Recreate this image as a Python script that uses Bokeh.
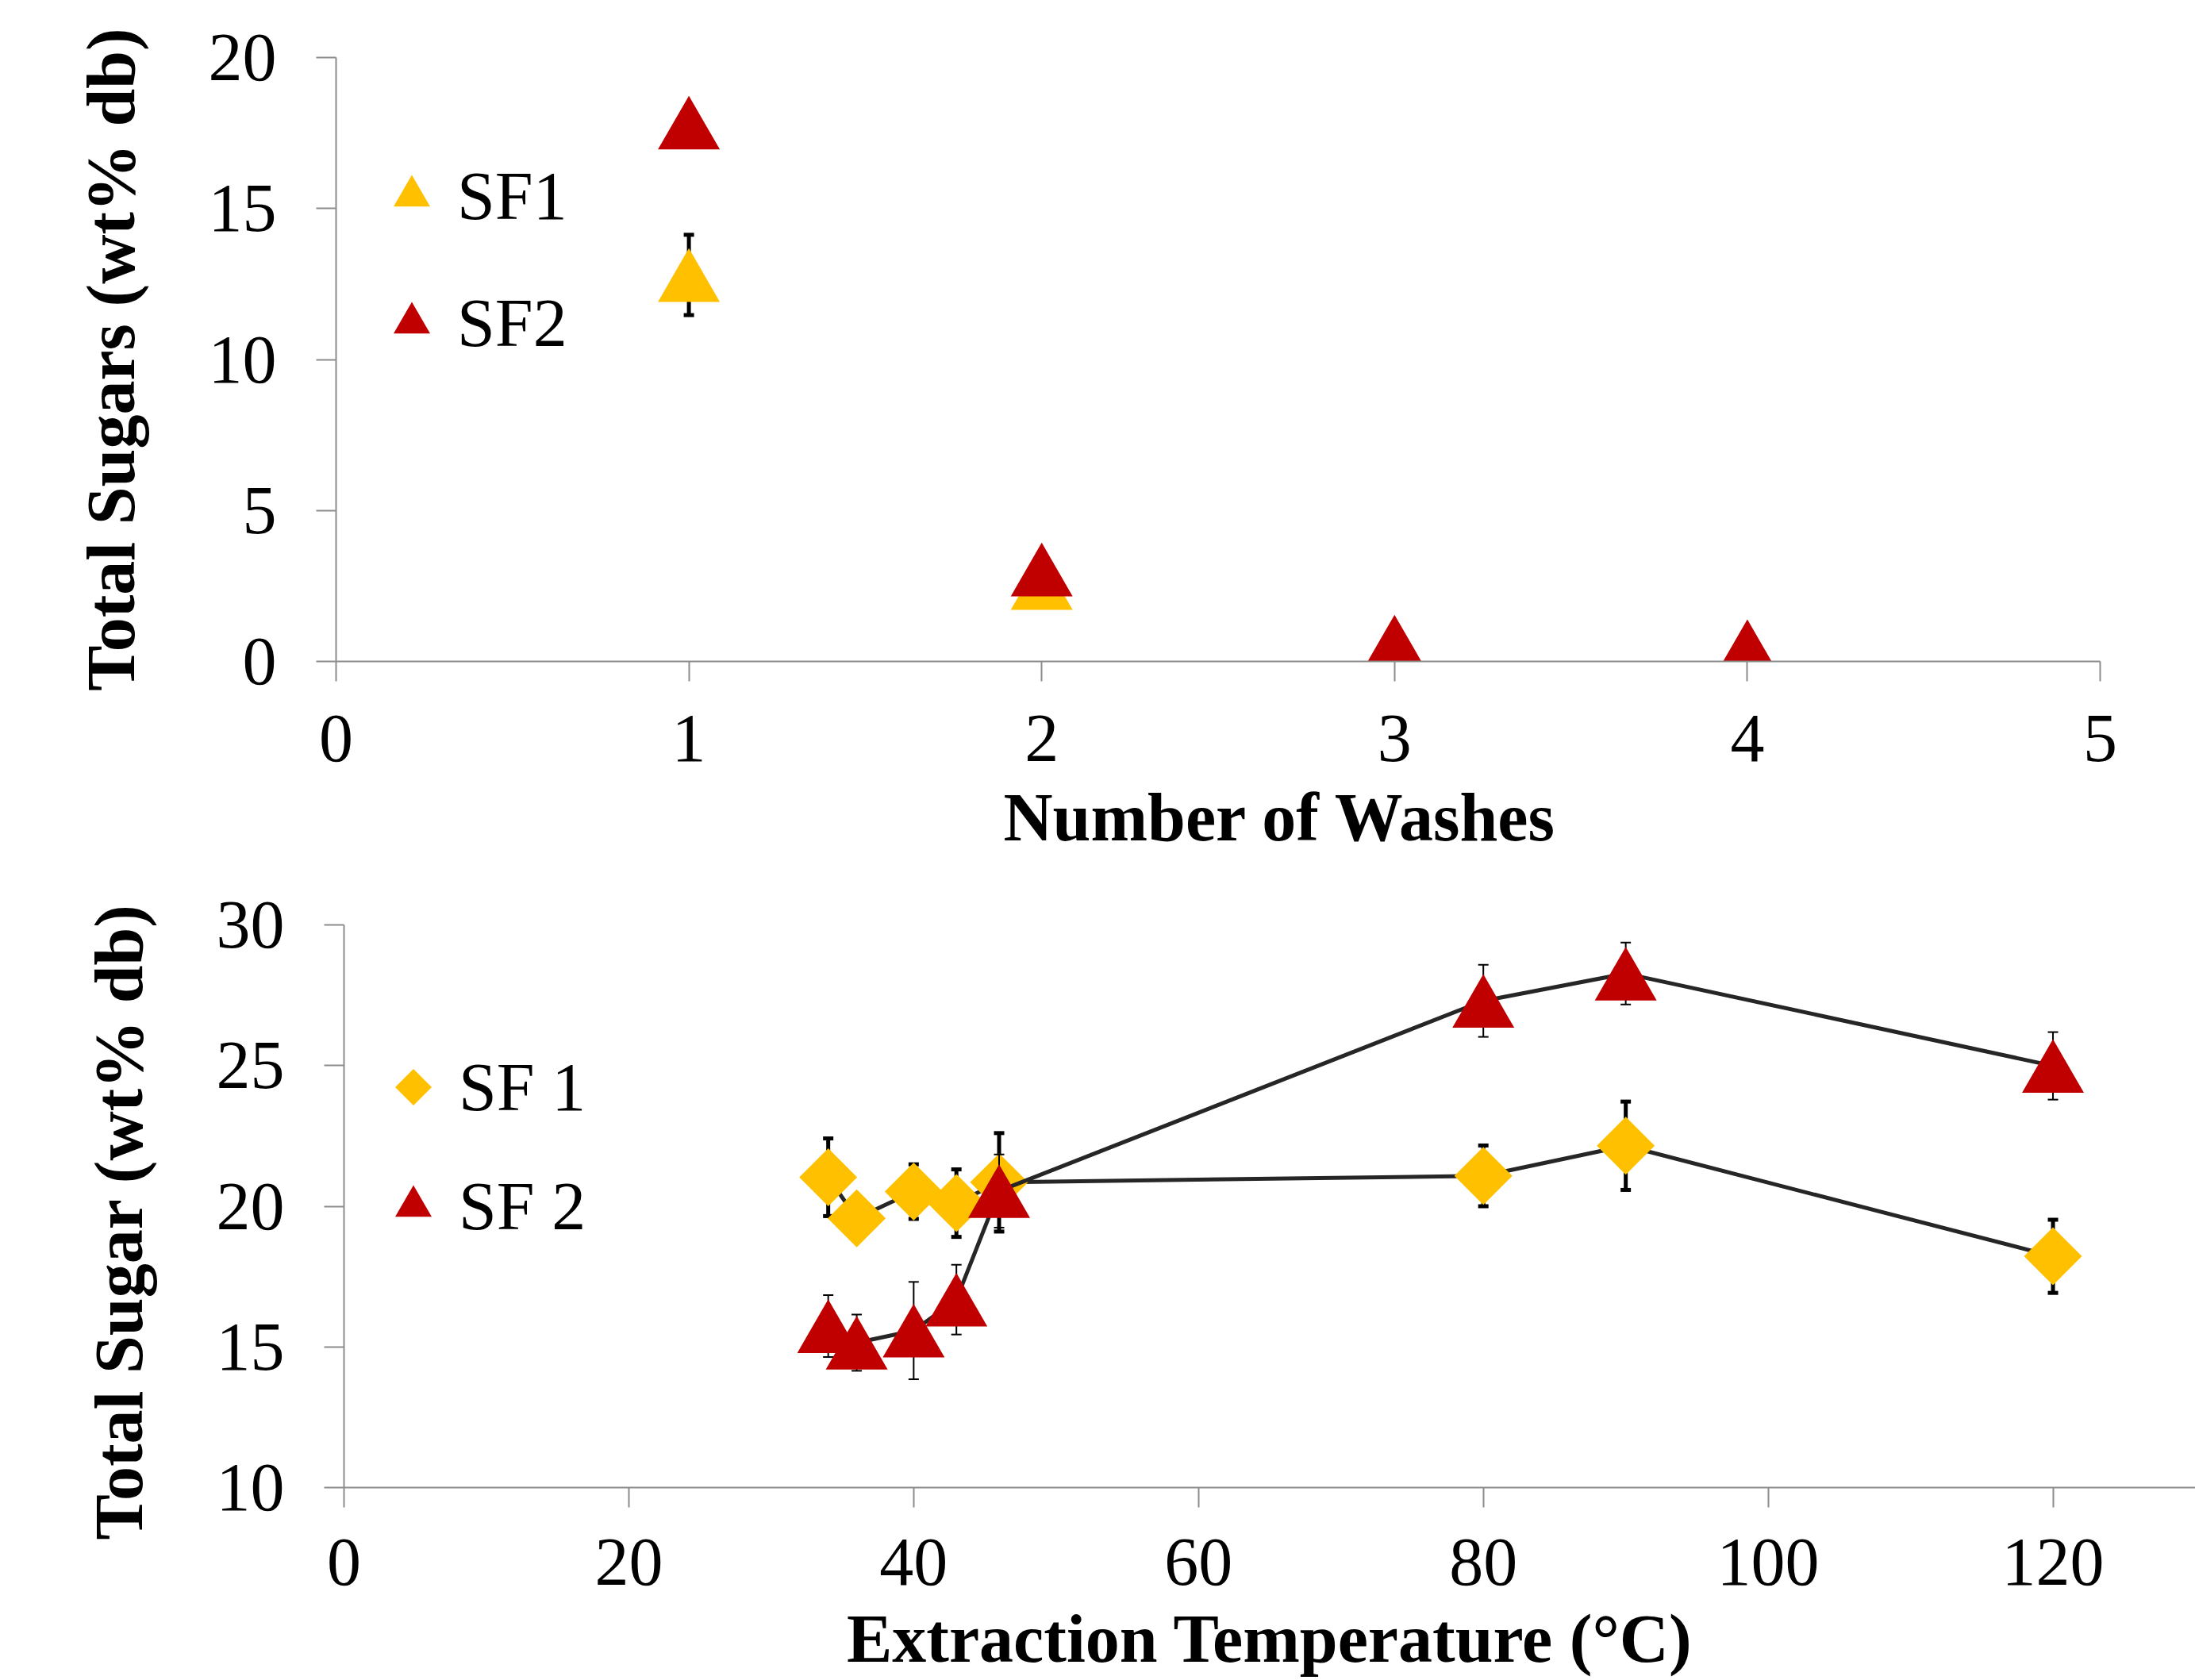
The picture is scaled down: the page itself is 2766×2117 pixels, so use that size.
import math
from bokeh.plotting import figure
from bokeh.models import (Range1d, FixedTicker, Legend, LegendItem, Title,
                          ColumnDataSource)
from bokeh.transform import dodge
from bokeh.embed import file_html
from bokeh.resources import INLINE

try:
    from bokeh.models import Ngon
    HAVE_NGON = True
except ImportError:
    HAVE_NGON = False

# ---------------- data ----------------
washes = [1, 2, 3, 4]
sf1_washes = [12.8, 2.6, 0.62, 0.31]
sf1_washes_err = [1.33, 0, 0, 0]
sf2_washes = [17.85, 3.05, 0.66, 0.51]
sf2_washes_err = [0, 0, 0, 0]

temps = [34, 36, 40, 43, 46, 80, 90, 120]
sf1_temp = [21.03, 19.57, 20.52, 20.11, 20.85, 21.08, 22.15, 18.22]
sf1_temp_err = [1.38, 0, 0.97, 1.2, 1.75, 1.08, 1.57, 1.3]
sf2_temp = [15.74, 15.15, 15.58, 16.68, 20.54, 27.3, 28.27, 24.99]
sf2_temp_err = [1.1, 1.0, 1.73, 1.24, 1.3, 1.28, 1.1, 1.2]

top_xticks = [0, 1, 2, 3, 4, 5]
top_yticks = [0, 5, 10, 15, 20]
bot_xticks = [0, 20, 40, 60, 80, 100, 120]
bot_yticks = [10, 15, 20, 25, 30]

# ---------------- style ----------------
FONT = "Liberation Serif"
GOLD = "#FFC000"
RED = "#C00000"
LINEC = "#262626"
AXISC = "#8c8c8c"
FS = "86px"
TRI = 78
SQ = 51.6


def style_axis(ax, label, label_standoff, axis_standoff):
    ax.axis_label = label
    ax.axis_line_color = AXISC
    ax.axis_line_width = 2
    ax.major_tick_line_color = AXISC
    ax.major_tick_line_width = 2
    ax.major_tick_in = 0
    ax.major_tick_out = 25
    ax.minor_tick_in = 0
    ax.minor_tick_out = 0
    ax.major_label_text_font = FONT
    ax.major_label_text_font_size = FS
    ax.major_label_text_color = "black"
    ax.major_label_standoff = label_standoff
    ax.axis_label_text_font = FONT
    ax.axis_label_text_font_size = FS
    ax.axis_label_text_font_style = "bold"
    ax.axis_label_text_color = "black"
    ax.axis_label_standoff = axis_standoff


def side_title(text, offset, standoff, valign):
    return Title(text=text, align="left", offset=offset, standoff=standoff,
                 vertical_align=valign, text_font=FONT, text_font_size=FS,
                 text_font_style="bold", text_color="black")


def errbars(p, xs, ys, errs, lw):
    xe = [x for x, e in zip(xs, errs) if e > 0]
    lo = [y - e for y, e in zip(ys, errs) if e > 0]
    hi = [y + e for y, e in zip(ys, errs) if e > 0]
    p.segment(x0=xe, y0=lo, x1=xe, y1=hi, line_color="black", line_width=lw)
    p.scatter(x=xe + xe, y=lo + hi, marker="dash", size=13,
              line_color="black", line_width=lw)


def base_fig(w, h, xr, yr, bl, br, bt, bb):
    p = figure(width=w, height=h, x_range=Range1d(*xr), y_range=Range1d(*yr),
               output_backend="svg", toolbar_location=None,
               min_border_left=bl, min_border_right=br,
               min_border_top=bt, min_border_bottom=bb)
    p.xgrid.visible = False
    p.ygrid.visible = False
    p.outline_line_color = None
    p.background_fill_color = "white"
    p.border_fill_color = "white"
    return p


def make_legend(items, loc, glyph, spacing):
    return Legend(items=items, location=loc, glyph_width=glyph,
                  glyph_height=glyph, spacing=spacing, label_standoff=0,
                  padding=0, margin=0, border_line_alpha=0,
                  background_fill_alpha=0, inactive_fill_alpha=0,
                  label_text_font=FONT, label_text_font_size=FS,
                  label_text_color="black")


# ---------------- top chart ----------------
p1 = base_fig(2766, 1111, (0, 5), (0, 20), 423, 120, 72, 278)
p1.xaxis.ticker = FixedTicker(ticks=top_xticks)
p1.yaxis.ticker = FixedTicker(ticks=top_yticks)
style_axis(p1.xaxis[0], "", 43, 0)
style_axis(p1.yaxis[0], "Total Sugars (wt% db)", 50, 72)
p1.add_layout(side_title("Number of Washes", 841, 40, "top"), "below")

errbars(p1, washes, sf1_washes, sf1_washes_err, 5)
src1 = dict(x=washes, y=sf1_washes)
r_t1 = p1.scatter(x="x", y=dodge("y", -0.30, range=p1.y_range), source=src1,
                  marker="triangle", size=TRI, fill_color=GOLD, line_color=None)
errbars(p1, washes, sf2_washes, sf2_washes_err, 2)
src2 = dict(x=washes, y=sf2_washes)
r_t2 = p1.scatter(x="x", y=dodge("y", -0.30, range=p1.y_range), source=src2,
                  marker="triangle", size=TRI, fill_color=RED, line_color=None)

p1.add_layout(make_legend([LegendItem(label="SF1", renderers=[r_t1]),
                           LegendItem(label="SF2", renderers=[r_t2])],
                          (38, 369), 115, 45))

# ---------------- bottom chart ----------------
p2 = base_fig(2766, 1005, (0, 130), (10, 30), 433, 0, 54, 242)
p2.xaxis.ticker = FixedTicker(ticks=bot_xticks)
p2.yaxis.ticker = FixedTicker(ticks=bot_yticks)
style_axis(p2.xaxis[0], "Extraction Temperature (\u00b0C)", 40, 17)
style_axis(p2.yaxis[0], "", 50, 0)
p2.add_layout(side_title("Total Sugar (wt% db)", -66, 144, "bottom"), "left")

p2.line(temps, sf1_temp, line_color=LINEC, line_width=5)
errbars(p2, temps, sf1_temp, sf1_temp_err, 5)
r_b1 = p2.scatter(temps, sf1_temp, marker="square", angle=math.pi / 4,
                  size=SQ, fill_color=GOLD, line_color=None)

leg_b1 = r_b1
if HAVE_NGON:
    src_leg = ColumnDataSource(dict(x=temps, y=sf1_temp))
    leg_b1 = p2.add_glyph(src_leg, Ngon(x="x", y="y", radius=36.5,
                                        radius_units="screen", n=4,
                                        fill_color=GOLD, line_color=None))
    leg_b1.visible = False

p2.line(temps, sf2_temp, line_color=LINEC, line_width=5)
errbars(p2, temps, sf2_temp, sf2_temp_err, 2)
src4 = dict(x=temps, y=sf2_temp)
r_b2 = p2.scatter(x="x", y=dodge("y", -0.32, range=p2.y_range), source=src4,
                  marker="triangle", size=TRI, fill_color=RED, line_color=None)

p2.add_layout(make_legend([LegendItem(label="SF 1", renderers=[leg_b1]),
                           LegendItem(label="SF 2", renderers=[r_b2])],
                          (30, 297), 115, 35))

open("out.html", "w").write(file_html([p1, p2], INLINE))
